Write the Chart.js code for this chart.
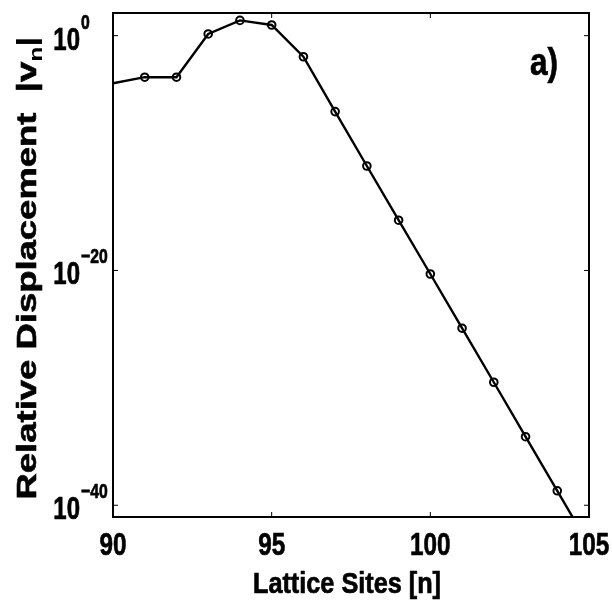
<!DOCTYPE html>
<html>
<head>
<meta charset="utf-8">
<script src="https://cdn.jsdelivr.net/npm/chart.js@4.4.0/dist/chart.umd.min.js"></script>
<style>
  html, body { margin: 0; padding: 0; background: #fff; }
  #wrap { width: 612px; height: 601px; }
</style>
</head>
<body>
<div id="wrap"><canvas id="chart" width="612" height="601"></canvas></div>
<script>
// lattice site index and relative displacement |v_n|
const sites = [90, 91, 92, 93, 94, 95, 96, 97, 98, 99, 100, 101, 102, 103, 104, 105];
const displacement = [8.9e-5, 2.9e-4, 2.9e-4, 1.4, 20, 8.1, 1.6e-2, 3.4e-7, 7.9e-12, 1.9e-16,
                      5.0e-21, 1.2e-25, 3.0e-30, 6.9e-35, 1.7e-39, 4e-44];

const xTicks = [90, 95, 100, 105];
const yTickExponents = [0, -20, -40];
const xTitle = 'Lattice Sites [n]';
const yTitle = 'Relative Displacement  |v';
const yTitleSub = 'n';
const panelLabel = 'a)';

const SANS = '"Liberation Sans", Arial, Helvetica, sans-serif';

function tickLine(ctx, x1, y1, x2, y2) {
    ctx.beginPath();
    ctx.moveTo(x1, y1);
    ctx.lineTo(x2, y2);
    ctx.stroke();
}

// bold text squeezed horizontally, to look like the narrow helvetica of the original
function narrowText(ctx, text, x, y, size, sx, align) {
    ctx.save();
    ctx.font = 'bold ' + size + 'px ' + SANS;
    ctx.translate(x, y);
    ctx.scale(sx, 1);
    ctx.textAlign = align;
    ctx.textBaseline = 'alphabetic';
    ctx.lineWidth = 0.7;
    ctx.fillText(text, 0, 0);
    ctx.strokeText(text, 0, 0);
    ctx.restore();
}

// box, inward ticks, tick labels, axis titles and panel label
const matlabFrame = {
    id: 'matlabFrame',
    afterDraw(chart) {
        const { ctx, chartArea: a, scales: { x, y } } = chart;
        ctx.save();
        ctx.strokeStyle = '#000';
        ctx.fillStyle = '#000';

        ctx.lineWidth = 1;
        xTicks.forEach(v => {
            const px = x.getPixelForValue(v);
            tickLine(ctx, px, a.bottom, px, a.bottom - 5);
            tickLine(ctx, px, a.top, px, a.top + 5);
        });
        yTickExponents.forEach(e => {
            const py = y.getPixelForValue(Math.pow(10, e));
            tickLine(ctx, a.left, py, a.left + 5, py);
            tickLine(ctx, a.right, py, a.right - 5, py);
        });

        ctx.lineWidth = 2;
        ctx.strokeRect(a.left, a.top, a.right - a.left, a.bottom - a.top);

        // x tick labels
        xTicks.forEach(v => {
            narrowText(ctx, String(v), x.getPixelForValue(v), 555, 32, 0.76, 'center');
        });

        // y tick labels: 10 with superscript exponent
        yTickExponents.forEach(e => {
            const py = y.getPixelForValue(Math.pow(10, e));
            narrowText(ctx, '10', 80, py + 14, 32, 0.75, 'right');
            narrowText(ctx, e === 0 ? '0' : '\u2212' + Math.abs(e), 81, py - 7, 21, 0.75, 'left');
        });

        // x axis title, squeezed to the original width
        ctx.font = 'bold 29px ' + SANS;
        const xw = ctx.measureText(xTitle).width;
        narrowText(ctx, xTitle, 347, 593, 29, 188 / xw, 'center');

        // y axis title, rotated, with subscript n
        ctx.save();
        ctx.translate(26, 268);
        ctx.rotate(-Math.PI / 2);
        ctx.font = 'bold 28px ' + SANS;
        const mainW = ctx.measureText(yTitle).width;
        const barW = ctx.measureText('|').width;
        ctx.font = 'bold 19px ' + SANS;
        const subW = ctx.measureText(yTitleSub).width;
        const total = mainW + subW + barW;
        ctx.scale(463 / total, 1);
        ctx.textAlign = 'left';
        ctx.lineWidth = 0.6;
        let cx = -total / 2;
        ctx.font = 'bold 28px ' + SANS;
        ctx.fillText(yTitle, cx, 10);
        ctx.strokeText(yTitle, cx, 10);
        cx += mainW;
        ctx.font = 'bold 19px ' + SANS;
        ctx.fillText(yTitleSub, cx, 16);
        cx += subW;
        ctx.font = 'bold 28px ' + SANS;
        ctx.fillText('|', cx, 10);
        ctx.restore();

        narrowText(ctx, panelLabel, 530, 75, 38, 0.83, 'left');
        ctx.restore();
    }
};

new Chart(document.getElementById('chart'), {
    type: 'line',
    data: {
        labels: sites,
        datasets: [{
            data: sites.map((n, i) => ({ x: n, y: displacement[i] })),
            borderColor: '#000',
            borderWidth: 2.4,
            tension: 0,
            fill: false,
            clip: 0,
            pointRadius: c => (c.dataIndex === 0 ? 0 : 3.8),
            pointBorderWidth: 2,
            pointBorderColor: '#000',
            pointBackgroundColor: 'rgba(0,0,0,0)'
        }]
    },
    options: {
        responsive: false,
        animation: false,
        devicePixelRatio: 1,
        layout: { padding: { left: 0, right: 23, top: 13, bottom: 0 } },
        plugins: {
            legend: { display: false },
            tooltip: { enabled: false }
        },
        scales: {
            x: {
                type: 'linear',
                min: 90,
                max: 105,
                afterBuildTicks: s => { s.ticks = xTicks.map(v => ({ value: v })); },
                afterFit: s => { s.height = 84; },
                grid: { display: false, drawTicks: false },
                border: { display: false },
                ticks: { display: false }
            },
            y: {
                type: 'logarithmic',
                min: 1e-41,
                max: 85,
                bounds: 'data',
                afterFit: s => { s.width = 113; },
                grid: { display: false, drawTicks: false },
                border: { display: false },
                ticks: { display: false }
            }
        }
    },
    plugins: [matlabFrame]
});
</script>
</body>
</html>
